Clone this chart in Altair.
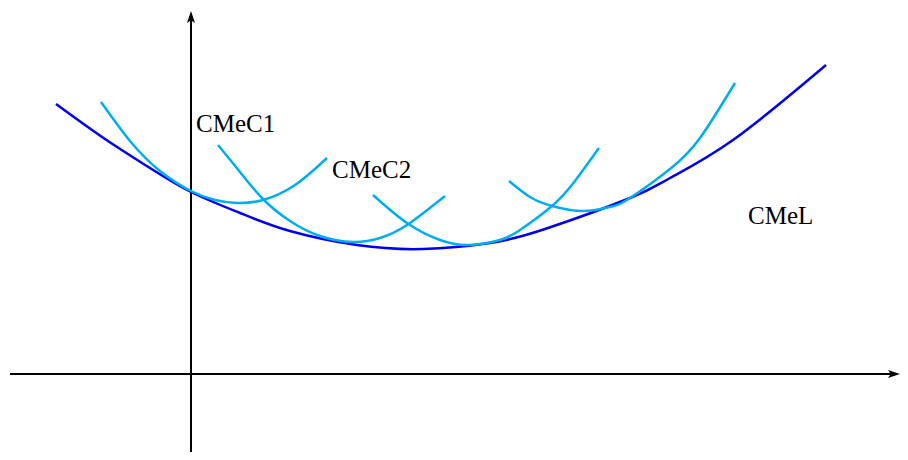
import altair as alt
import pandas as pd

# ---- data (q = quantity, c = average cost) ----
# Long-run average cost curve (CMeL)
cmel_q = [-13.5, -8.6, -4.1, 0.0, 4.9, 9.9, 16.6, 23.2, 29.9, 35.4, 43.9, 47.9, 54.2, 63.5]
cmel_c = [27.0, 23.5, 20.6, 18.2, 16.1, 14.3, 12.9, 12.5, 13.1, 14.5, 17.6, 19.6, 23.4, 30.9]

# Short-run average cost curves
c1_q = [-9.0, -6.1, -3.1, 0.0, 2.4, 4.6, 7.2, 10.4, 13.6]
c1_c = [27.2, 23.3, 20.3, 18.3, 17.4, 17.1, 17.4, 18.9, 21.6]

c2_q = [2.7, 4.9, 7.2, 9.9, 12.9, 16.2, 18.9, 21.6, 25.4]
c2_c = [22.9, 20.2, 17.5, 15.3, 13.8, 13.2, 13.6, 14.9, 17.8]

c3_q = [18.2, 21.6, 24.9, 27.8, 30.9, 32.9, 36.1, 38.4, 40.8]
c3_c = [17.9, 15.1, 13.4, 12.9, 13.4, 14.4, 16.8, 19.3, 22.6]

c4_q = [31.8, 33.9, 36.1, 39.2, 41.9, 43.9, 47.9, 50.9, 54.4]
c4_c = [19.3, 17.7, 16.8, 16.3, 16.7, 17.6, 20.5, 23.6, 29.1]

# Labels
label_text = ["CMeC1", "CMeC2", "CMeL"]
label_q = [0.5, 14.1, 55.7]
label_c = [24.2, 19.6, 15.0]

# Axis extents
x_dom = [-18.3, 70.9]
y_dom = [-7.8, 36.6]

W, H = 892, 444

xs = alt.Scale(domain=x_dom, nice=False, zero=False)
ys = alt.Scale(domain=y_dom, nice=False, zero=False)

cmel = pd.DataFrame({"q": cmel_q, "c": cmel_c, "i": range(len(cmel_q))})
rows = []
for name, qq, cc in [("CMeC1", c1_q, c1_c), ("CMeC2", c2_q, c2_c),
                     ("CMeC3", c3_q, c3_c), ("CMeC4", c4_q, c4_c)]:
    for i, (a, b) in enumerate(zip(qq, cc)):
        rows.append({"curve": name, "q": a, "c": b, "i": i})
srac = pd.DataFrame(rows)
labels = pd.DataFrame({"t": label_text, "q": label_q, "c": label_c})

haxis = pd.DataFrame({"q": [-18.1], "q2": [70.4], "c": [0.0]})
vaxis = pd.DataFrame({"q": [0.0], "c": [-7.8], "c2": [35.9]})
harrow = pd.DataFrame({"q": [70.3], "c": [0.0]})
varrow = pd.DataFrame({"q": [0.0], "c": [35.7]})

X = lambda f="q": alt.X(f"{f}:Q", scale=xs, axis=None)
Y = lambda f="c": alt.Y(f"{f}:Q", scale=ys, axis=None)

h_rule = alt.Chart(haxis).mark_rule(color="black", strokeWidth=2).encode(
    x=X(), x2="q2:Q", y=Y())
v_rule = alt.Chart(vaxis).mark_rule(color="black", strokeWidth=2).encode(
    x=X(), y=Y(), y2="c2:Q")
h_head = alt.Chart(harrow).mark_point(
    shape="M1,0L-1,-0.67L-0.55,0L-1,0.67Z", size=144, filled=True,
    color="black", opacity=1).encode(x=X(), y=Y())
v_head = alt.Chart(varrow).mark_point(
    shape="M0,-1L0.67,1L0,0.55L-0.67,1Z", size=144, filled=True,
    color="black", opacity=1).encode(x=X(), y=Y())

lrac_line = alt.Chart(cmel).mark_line(
    color="#0000EE", strokeWidth=2.5, interpolate="natural").encode(
    x=X(), y=Y(), order="i:Q")
srac_lines = alt.Chart(srac).mark_line(
    color="#00AEEF", strokeWidth=2.5, interpolate="natural").encode(
    x=X(), y=Y(), detail="curve:N", order="i:Q")

text = alt.Chart(labels).mark_text(
    align="left", baseline="alphabetic", font="Liberation Serif",
    fontSize=25, color="black").encode(x=X(), y=Y(), text="t:N")

chart = alt.layer(h_rule, v_rule, h_head, v_head, lrac_line, srac_lines, text).properties(
    width=W, height=H, padding=0,
    autosize=alt.AutoSizeParams(type="none"),
).configure_view(stroke=None)

chart.save("out.html", embed_options={"renderer": "svg", "actions": False})
